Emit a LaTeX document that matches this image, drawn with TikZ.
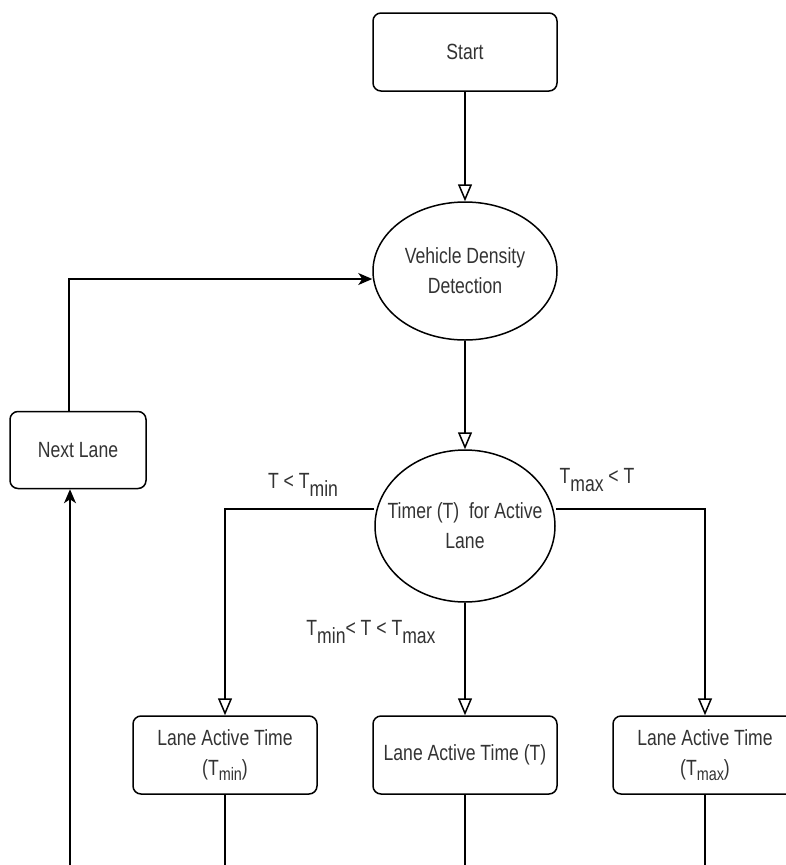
\documentclass[tikz,border=0pt]{standalone}
\usepackage{fontspec}
\setmainfont{Liberation Sans}[FakeStretch=0.8]
\usetikzlibrary{shapes.geometric,arrows.meta}
\newcommand{\lowsub}[1]{\raisebox{-0.33em}{#1}}
\newcommand{\boxsub}[1]{\raisebox{-0.25em}{\fontsize{18}{18}\selectfont #1}}
\begin{document}
\begin{tikzpicture}[x=1pt,y=-1pt,
  every node/.style={font=\fontsize{22}{30}\selectfont, text=black!80},
  rbox/.style={draw=black, rounded corners=8pt, minimum width=184pt, minimum height=78pt, align=center, inner sep=0pt, line width=1.5pt},
  ell/.style={draw=black, ellipse, align=center, inner xsep=-25pt, inner ysep=0pt, line width=1.5pt},
  conn/.style={line width=1.5pt, draw=black},
  openarr/.style={-{Triangle[open,length=17pt,width=14pt]}},
  fillarr/.style={-{Stealth[length=14pt,width=12pt,inset=4pt]}},
  lab/.style={fill=white, inner sep=2pt}
]
\useasboundingbox (0,0) rectangle (786,865);

\node[rbox] (start) at (465,52) {Start};
\node[ell, minimum width=184pt, minimum height=138pt] (vdd) at (465,271) {Vehicle Density\\Detection};
\node[ell, minimum width=180pt, minimum height=152pt] (timer) at (465,526) {Timer (T)\ \ for Active\\Lane};
\node[rbox, minimum width=136pt, minimum height=77pt] (next) at (78,450) {Next Lane};
\node[rbox] (lmin) at (225,755) {Lane Active Time\\(T\boxsub{min})};
\node[rbox] (lt) at (465,755) {Lane Active Time (T)};
\node[rbox] (lmax) at (705,755) {Lane Active Time\\(T\boxsub{max})};

\node[lab] (l1) at (303,485) {T < T\lowsub{min}};
\node[lab] (l2) at (597,480) {T\lowsub{max} < T};
\node[lab] (l3) at (371,632) {T\lowsub{min}< T < T\lowsub{max}};

\draw[conn, openarr] (start) -- (vdd);
\draw[conn, openarr] (vdd) -- (timer);

\coordinate (jl) at (225,509);
\coordinate (jr) at (705,509);
\draw[conn, openarr] (timer.west |- jl) -- (jl) -- (lmin.north);
\draw[conn, openarr] (timer.east |- jr) -- (jr) -- (lmax.north);
\draw[conn, openarr] (timer) -- (lt);

\coordinate (top) at (69,279);
\draw[conn, fillarr] (next.north -| top) -- (top) -- (top -| vdd.west);
\coordinate (bot) at (70,880);
\draw[conn, fillarr] (bot) -- (bot |- next.south);

\coordinate (b1) at (225,880);
\coordinate (b2) at (465,880);
\coordinate (b3) at (705,880);
\draw[conn] (lmin) -- (b1);
\draw[conn] (lt) -- (b2);
\draw[conn] (lmax) -- (b3);
\end{tikzpicture}
\end{document}
